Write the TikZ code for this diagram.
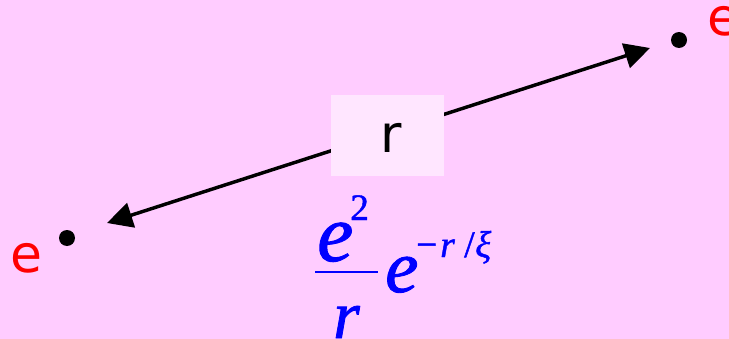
\documentclass[tikz,border=0pt]{standalone}
\usepackage{fontspec}
\setmainfont{DejaVu Sans}
\newfontfamily\tms[FakeBold=1.2]{Liberation Serif}
\usetikzlibrary{arrows.meta}
\definecolor{bg}{HTML}{FFCCFF}
\definecolor{boxbg}{HTML}{FFE6FF}
\begin{document}
\begin{tikzpicture}[x=0.75pt,y=-0.75pt,
  lbl/.style={inner sep=0pt, anchor=base west, text=red, font=\fontsize{39}{39}\selectfont},
  dotnode/.style={circle, fill=black, minimum size=12pt, inner sep=0pt},
  frm/.style={inner sep=0pt, anchor=base west, text=blue},
  ifont/.style={font=\tms\itshape\fontsize{#1}{#1}\selectfont},
  ufont/.style={font=\tms\fontsize{#1}{#1}\selectfont}]
\fill[bg] (0,0) rectangle (729,339);
\useasboundingbox (0,0) rectangle (729,339);
\node[dotnode] (d1) at (67,238) {};
\node[dotnode] (d2) at (679,40) {};
\node[lbl] (e1) at (10,272) {e};
\node[lbl] (e2) at (707,36) {e};
\coordinate (tl) at (107,223);
\coordinate (tr) at (650,48);
\draw[line width=2.6pt, {Triangle[length=19pt,width=19pt]}-{Triangle[length=19pt,width=19pt]}] (tl) -- (tr);
\node[fill=boxbg, minimum width=84.75pt, minimum height=60.75pt, inner sep=0pt] (bx) at (387.5,135.5) {};
\node[inner sep=0pt, anchor=base west, text=black, font=\fontsize{39}{39}\selectfont] (r) at (380,152) {r};
% formula
\node[frm, ifont=61] (num) at (317,261) {e};
\node[frm, ufont=28] (two) at (350,220) {2};
\draw[blue, line width=2.2pt] (315,272) -- (378,272);
\node[frm, ifont=51] (den) at (333,338) {r};
\node[frm, ifont=56] (base) at (385,292) {e};
\node[frm, ufont=28] (minus) at (416,257) {−};
\node[frm, ifont=28] (er) at (440,257) {r};
\node[frm, ufont=28] (sl) at (464,257) {/};
\node[frm, ifont=28] (xi) at (475,257) {ξ};
\end{tikzpicture}
\end{document}
